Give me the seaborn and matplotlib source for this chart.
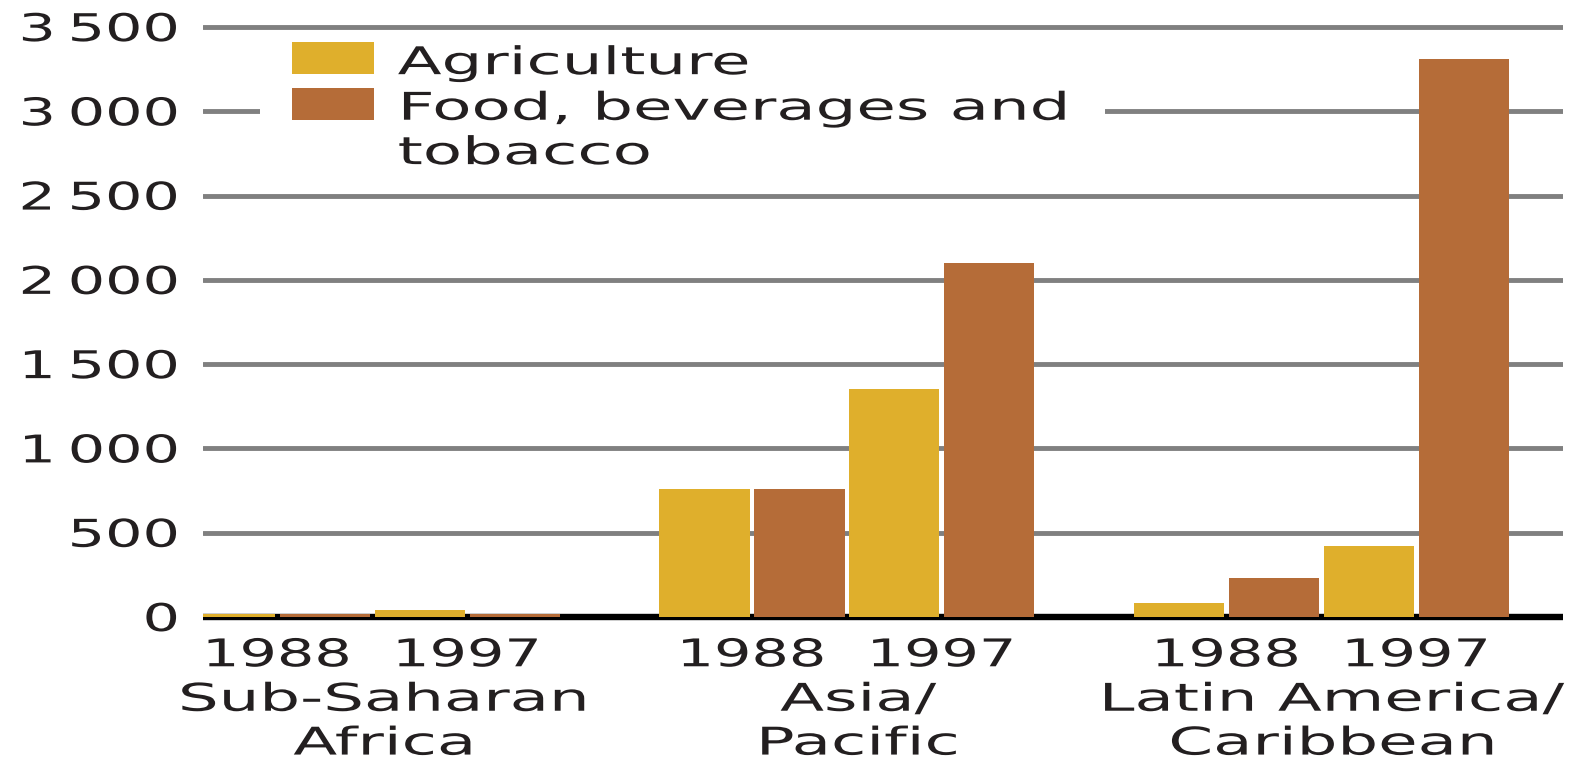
import matplotlib
matplotlib.use("Agg")
import matplotlib.pyplot as plt
import numpy as np
import pandas as pd
import seaborn as sns
from matplotlib.patheffects import AbstractPathEffect
from matplotlib.transforms import Affine2D
from matplotlib.patches import Rectangle, Patch

# ---------------- data ----------------
regions = ["Sub-Saharan\nAfrica", "Asia/\nPacific", "Latin America/\nCaribbean"]
years = ["1988", "1997"]
series = ["Agriculture", "Food, beverages and\ntobacco"]
# order: (region, year) -> SSA88, SSA97, AP88, AP97, LAC88, LAC97
agriculture = [20, 40, 760, 1350, 80, 420]
food = [20, 20, 760, 2100, 230, 3310]
y_ticks = [0, 500, 1000, 1500, 2000, 2500, 3000, 3500]
y_tick_labels = ["0", "500", "1\u2009000", "1\u2009500", "2\u2009000",
                 "2\u2009500", "3\u2009000", "3\u2009500"]

colors = ["#DFAF2C", "#B56C38"]
text_color = "#231F20"
grid_color = "#808080"
FS = 27.5
SX_NUM = 1.54
SX_TXT = 1.68


class HStretch(AbstractPathEffect):
    """Draw text glyphs horizontally stretched about a pivot."""
    def __init__(self, sx, pivot="left", dy=0.0):
        super().__init__()
        self.sx = sx
        self.pivot = pivot
        self.dy = dy

    def draw_path(self, renderer, gc, tpath, affine, rgbFace=None):
        ext = tpath.get_extents()
        if self.pivot == "left":
            px = 0.0
        elif self.pivot == "center":
            px = 0.5 * (ext.x0 + ext.x1)
        else:
            px = ext.x1
        t = (Affine2D().translate(-px, 0).scale(self.sx, 1.0).translate(px, 0)
             + affine
             + Affine2D().translate(0, renderer.points_to_pixels(self.dy)))
        renderer.draw_path(gc, tpath, t, rgbFace)


rows = []
for g, region in enumerate(regions):
    for j, year in enumerate(years):
        k = g * 2 + j
        for s, (name, vals) in enumerate(zip(series, [agriculture, food])):
            rows.append(dict(region=region, year=year, series=name,
                             value=vals[k], pos=g * 5 + j * 2 + s))
df = pd.DataFrame(rows)

sns.set_style("white")
plt.rcParams["font.family"] = ["DejaVu Sans"]

fig = plt.figure(figsize=(15.72, 7.62), dpi=100)
ax = fig.add_axes([203 / 1572, 1 - 623.7 / 762, (1563 - 203) / 1572, (623.7 - 20.3) / 762])

sns.barplot(data=df, x="pos", y="value", hue="series", palette=colors,
            native_scale=True, dodge=False, width=0.95, saturation=1,
            errorbar=None, legend=False, linewidth=0, ax=ax, zorder=2)

ax.set_xlim(-0.285, 14.045)
ax.set_ylim(-40, 3540)
for sp in ax.spines.values():
    sp.set_visible(False)

ax.set_axisbelow(True)
ax.yaxis.grid(True, color=grid_color, lw=3.5)
ax.xaxis.grid(False)
ax.axhline(0, color="black", lw=4.6, zorder=1.5)

year_pos = [g * 5 + j * 2 + 0.5 for g in range(len(regions)) for j in range(len(years))]
year_labels = [y for _ in regions for y in years]
region_pos = [g * 5 + 1.62 for g in range(len(regions))]

ax.set_yticks(y_ticks, labels=y_tick_labels)
ax.set_xticks(year_pos, labels=year_labels)
ax.set_xticks(region_pos, labels=regions, minor=True)
ax.set_xlabel("")
ax.set_ylabel("")
ax.tick_params(axis="x", which="major", length=0, pad=10.5, labelsize=FS, labelcolor=text_color)
ax.tick_params(axis="x", which="minor", length=0, pad=42.5, labelsize=FS, labelcolor=text_color)
ax.tick_params(axis="y", length=0, pad=17.6, labelsize=FS, labelcolor=text_color)

for lab in ax.get_yticklabels():
    lab.set_path_effects([HStretch(SX_NUM, "right")])
for lab in ax.get_xticklabels():
    lab.set_path_effects([HStretch(SX_NUM, "center")])
for lab in ax.get_xticklabels(minor=True):
    lab.set_linespacing(1.28)
    lab.set_path_effects([HStretch(SX_TXT, "center")])

# white background behind the legend (hides gridline)
bg = Rectangle((260 / 1572, 1 - 175 / 762), 845 / 1572, 142 / 762,
               transform=fig.transFigure, facecolor="white", edgecolor="none",
               zorder=0.8, clip_on=False)
ax.add_patch(bg)

handles = [Patch(facecolor=c, edgecolor="none") for c in colors]
leg = ax.legend(handles, series, loc="upper left",
                bbox_to_anchor=(292 / 1572, 1 - 42 / 762), bbox_transform=fig.transFigure,
                frameon=False, borderpad=0, borderaxespad=0,
                handlelength=82 / 38.2, handleheight=0.92, handletextpad=0.62,
                labelspacing=0.25, fontsize=FS)
for t in leg.get_texts():
    t.set_color(text_color)
    t.set_linespacing(1.3)
    t.set_path_effects([HStretch(SX_TXT, "left", dy=-3.0)])
try:
    for col in leg._legend_handle_box.get_children():
        for item in col.get_children():
            item.align = "top"
except Exception:
    pass

fig.savefig("out.png", dpi=100, facecolor="white")
